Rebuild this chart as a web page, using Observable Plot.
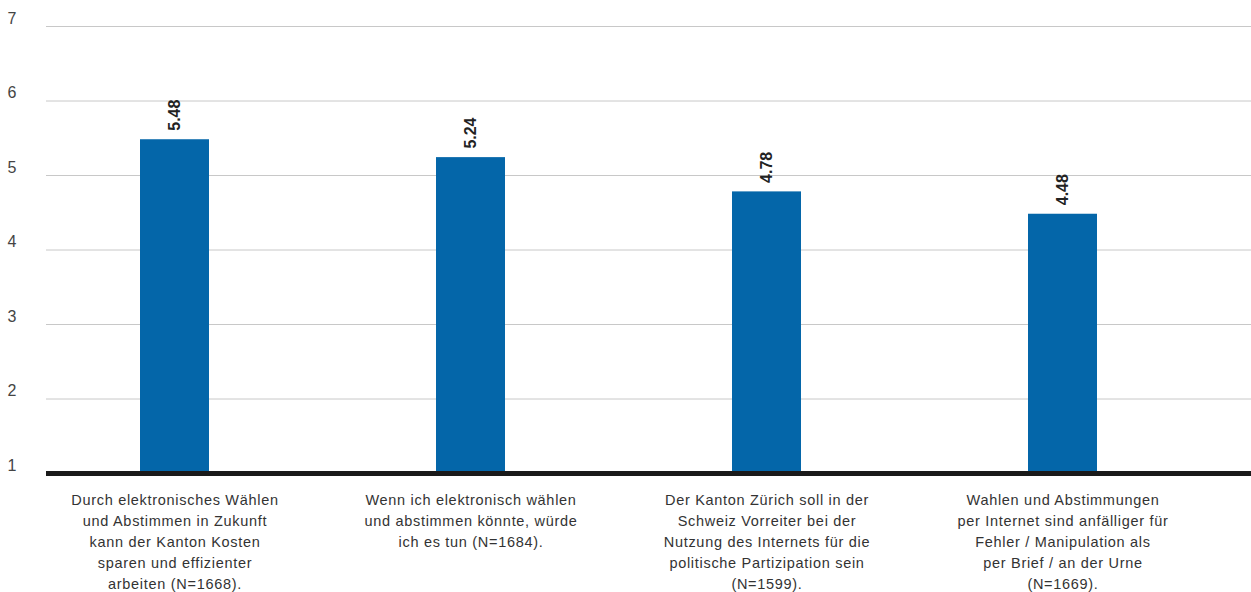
<!DOCTYPE html>
<html>
<head>
<meta charset="utf-8">
<script src="https://cdn.jsdelivr.net/npm/d3@7"></script>
<script src="https://cdn.jsdelivr.net/npm/@observablehq/plot@0.6"></script>
<style>
  html, body { margin: 0; padding: 0; background: #fff; }
  #chart svg { display: block; }
  #chart g[aria-label="x-axis tick label"] text { letter-spacing: 0.7px; }
</style>
</head>
<body>
<div id="chart"></div>
<script>
const categories = [
  "Durch elektronisches Wählen\nund Abstimmen in Zukunft\nkann der Kanton Kosten\nsparen und effizienter\narbeiten (N=1668).",
  "Wenn ich elektronisch wählen\nund abstimmen könnte, würde\nich es tun (N=1684).",
  "Der Kanton Zürich soll in der\nSchweiz Vorreiter bei der\nNutzung des Internets für die\npolitische Partizipation sein\n(N=1599).",
  "Wahlen und Abstimmungen\nper Internet sind anfälliger für\nFehler / Manipulation als\nper Brief / an der Urne\n(N=1669)."
];
const values = [5.48, 5.24, 4.78, 4.48];
const yTicks = [1, 2, 3, 4, 5, 6, 7];

const data = categories.map((c, i) => ({category: c, value: values[i]}));

const font = "'Liberation Sans', Arial, Helvetica, sans-serif";

const chart = Plot.plot({
  width: 1251,
  height: 592,
  marginTop: 26,
  marginBottom: 119,
  marginLeft: 25,
  marginRight: 40,
  style: {fontFamily: font, color: "#333", background: "#fff"},
  x: {domain: categories, paddingInner: 0.7673, paddingOuter: 0.38365, align: 0.5, label: null},
  y: {domain: [1, 7], label: null},
  marks: [
    Plot.ruleY(yTicks.filter(d => d > 1), {stroke: "#c8c8c8", strokeWidth: 1, insetLeft: 21, insetRight: -40}),
    Plot.barY(data, {x: "category", y1: 1, y2: "value", fill: "#0466a9"}),
    Plot.ruleY([1], {stroke: "#1a1a1a", strokeWidth: 5, insetLeft: 21, insetRight: -40}),
    Plot.text(data, {
      x: "category", y: "value", text: d => d.value.toFixed(2),
      rotate: -90, textAnchor: "start", lineAnchor: "middle",
      dy: -9, fontSize: 16, fontWeight: "bold", fill: "#222"
    }),
    Plot.axisY({ticks: yTicks, tickFormat: "d", tickSize: 0, tickPadding: 0, textAnchor: "start", dx: -18, dy: -8, fontSize: 16, fill: "#444", label: null}),
    Plot.axisX({tickSize: 0, tickPadding: 17, fontSize: 14.5, lineHeight: 1.44, fill: "#333", label: null})
  ]
});
document.getElementById("chart").appendChild(chart);
</script>
</body>
</html>
